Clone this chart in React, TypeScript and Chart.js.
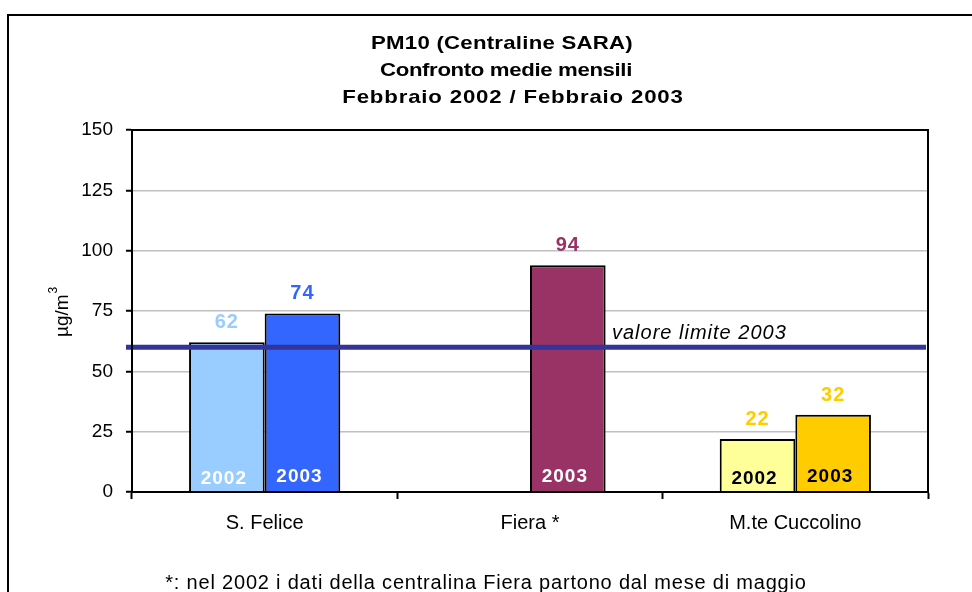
import React, { useEffect, useRef } from 'react';
import { Chart, registerables } from 'chart.js';

Chart.register(...registerables);

// ---- data ----
const categories = ['S. Felice', 'Fiera *', 'M.te Cuccolino'];
const series2002: (number | null)[] = [62, null, 22];
const series2003: (number | null)[] = [74, 94, 32];
const seriesNames = ['2002', '2003'];
const yTicks = [0, 25, 50, 75, 100, 125, 150];
const limitValue = 60;
const limitLabel = 'valore limite 2003';
const titleLines = ['PM10 (Centraline SARA)', 'Confronto medie mensili', 'Febbraio 2002 / Febbraio 2003'];
const yAxisTitle = 'µg/m';
const yAxisSup = '3';
const footnote = '*: nel 2002 i dati della centralina Fiera partono dal mese di maggio';

// ---- colours ----
const fill2002 = ['#99CCFF', '#99CCFF', '#FFFF99'];
const fill2003 = ['#3366FF', '#993366', '#FFCC00'];
const valueColor2002 = ['#99CCFF', '#99CCFF', '#FFCC00'];
const valueColor2003 = ['#3366FF', '#993366', '#FFCC00'];
const yearColor2002 = ['#FFFFFF', '#FFFFFF', '#000000'];
const yearColor2003 = ['#FFFFFF', '#FFFFFF', '#000000'];

const FONT = '"Liberation Sans", Arial, Helvetica, sans-serif';

const decorPlugin = {
  id: 'decor',
  beforeDraw(chart: any) {
    const ctx = chart.ctx as CanvasRenderingContext2D;
    ctx.save();
    ctx.fillStyle = '#FFFFFF';
    ctx.fillRect(0, 0, chart.width, chart.height);
    ctx.strokeStyle = '#000000';
    ctx.lineWidth = 2;
    ctx.beginPath();
    ctx.moveTo(8, chart.height + 4);
    ctx.lineTo(8, 15);
    ctx.lineTo(chart.width + 4, 15);
    ctx.stroke();
    ctx.restore();
  },
  afterDatasetsDraw(chart: any) {
    const ctx = chart.ctx as CanvasRenderingContext2D;
    const ca = chart.chartArea;
    const y = chart.scales.y;
    ctx.save();
    const valueColors = [valueColor2002, valueColor2003];
    const yearColors = [yearColor2002, yearColor2003];
    const yearOffsets = [8, 10.5];
    chart.data.datasets.forEach((ds: any, di: number) => {
      const meta = chart.getDatasetMeta(di);
      meta.data.forEach((bar: any, i: number) => {
        const v = ds.data[i];
        if (v === null || v === undefined) return;
        ctx.textAlign = 'center';
        ctx.textBaseline = 'alphabetic';
        (ctx as any).letterSpacing = '1px';
        ctx.font = `bold 20px ${FONT}`;
        ctx.fillStyle = valueColors[di][i];
        ctx.fillText(String(v), bar.x, bar.y - 14);
        ctx.font = `bold 19px ${FONT}`;
        ctx.fillStyle = yearColors[di][i];
        ctx.fillText(seriesNames[di], bar.x - 3, y.getPixelForValue(0) - yearOffsets[di]);
      });
    });
    const ly = y.getPixelForValue(limitValue);
    ctx.strokeStyle = '#333399';
    ctx.lineWidth = 5;
    ctx.beginPath();
    ctx.moveTo(ca.left - 6, ly);
    ctx.lineTo(ca.right - 2, ly);
    ctx.stroke();
    ctx.font = `italic 20px ${FONT}`;
    (ctx as any).letterSpacing = '1px';
    ctx.fillStyle = '#000000';
    ctx.textAlign = 'left';
    ctx.fillText(limitLabel, 612, ly - 8);
    ctx.restore();
  },
  afterDraw(chart: any) {
    const ctx = chart.ctx as CanvasRenderingContext2D;
    const ca = chart.chartArea;
    ctx.save();
    ctx.strokeStyle = '#000000';
    ctx.lineWidth = 2;
    ctx.strokeRect(ca.left, ca.top, ca.right - ca.left, ca.bottom - ca.top);
    // title (horizontally stretched like the source rendering)
    ctx.fillStyle = '#000000';
    ctx.textAlign = 'center';
    ctx.textBaseline = 'alphabetic';
    ctx.font = `bold 18.5px ${FONT}`;
    const centers = [502, 506, 513];
    const baselines = [49, 76, 103];
    const spacings = ['0.2px', '-0.3px', '0.7px'];
    titleLines.forEach((t, i) => {
      ctx.save();
      (ctx as any).letterSpacing = spacings[i];
      ctx.translate(centers[i], baselines[i]);
      ctx.scale(1.2, 1);
      ctx.fillText(t, 0, 0);
      ctx.restore();
    });
    // footnote
    ctx.font = `20px ${FONT}`;
    (ctx as any).letterSpacing = '0.8px';
    ctx.fillText(footnote, 486, 589);
    // y axis title
    ctx.translate(68, 337);
    ctx.rotate(-Math.PI / 2);
    ctx.textAlign = 'left';
    ctx.font = `19px ${FONT}`;
    (ctx as any).letterSpacing = '0px';
    ctx.fillText(yAxisTitle, 0, 0);
    const w = ctx.measureText(yAxisTitle).width;
    ctx.font = `12px ${FONT}`;
    ctx.fillText(yAxisSup, w + 1, -11);
    ctx.restore();
  },
};

export default function App() {
  const ref = useRef<HTMLCanvasElement | null>(null);
  useEffect(() => {
    if (!ref.current) return;
    const chart = new Chart(ref.current, {
      type: 'bar',
      data: {
        labels: categories,
        datasets: [
          {
            label: seriesNames[0],
            data: series2002,
            backgroundColor: fill2002,
            borderColor: '#000000',
            borderWidth: 2,
            categoryPercentage: 0.57,
            barPercentage: 1.0,
          },
          {
            label: seriesNames[1],
            data: series2003,
            backgroundColor: fill2003,
            borderColor: '#000000',
            borderWidth: 2,
            categoryPercentage: 0.57,
            barPercentage: 1.0,
          },
        ],
      },
      options: {
        responsive: false,
        animation: false,
        devicePixelRatio: 1,
        layout: { padding: { left: 0, top: 130, right: 44, bottom: 0 } },
        plugins: {
          legend: { display: false },
          title: { display: false },
          tooltip: { enabled: false },
        },
        scales: {
          x: {
            afterFit: (s: any) => { s.height = 100; },
            grid: {
              drawOnChartArea: false,
              offset: true,
              tickLength: 7,
              tickColor: '#000000',
              tickWidth: 2,
            },
            border: { color: '#000000', width: 2 },
            ticks: {
              color: '#000000',
              font: { family: FONT, size: 20 },
              padding: 12,
            },
          },
          y: {
            min: 0,
            max: 150,
            afterFit: (s: any) => { s.width = 132; },
            afterBuildTicks: (s: any) => { s.ticks = yTicks.map((v) => ({ value: v })); },
            grid: {
              color: '#C0C0C0',
              lineWidth: 1.5,
              tickLength: 6,
              tickColor: '#000000',
              tickWidth: 2,
            },
            border: { color: '#000000', width: 2 },
            ticks: {
              color: '#000000',
              font: { family: FONT, size: 19 },
              padding: 13,
            },
          },
        },
      },
      plugins: [decorPlugin],
    });
    return () => chart.destroy();
  }, []);
  return (
    <div style={{ position: 'absolute', left: 0, top: 0, width: 972, height: 592 }}>
      <canvas ref={ref} width={972} height={592} style={{ display: 'block' }} />
    </div>
  );
}
